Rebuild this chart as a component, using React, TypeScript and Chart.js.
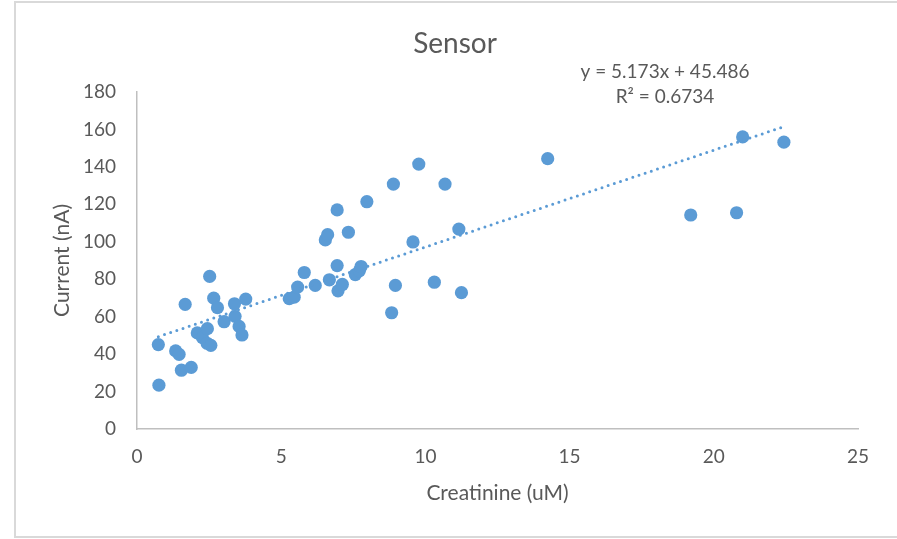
import React, { useEffect, useRef } from "react";
import { Chart, registerables } from "chart.js";

Chart.register(...registerables);

const creatinine: number[] = [
  0.74, 0.76, 1.34, 1.46, 1.54, 1.67, 1.88, 2.09, 2.27, 2.44, 2.43, 2.56, 2.52,
  2.66, 2.79, 3.02, 3.38, 3.4, 3.54, 3.64, 3.77, 5.28, 5.45, 5.57, 5.8, 6.18,
  6.53, 6.61, 6.67, 6.94, 6.94, 6.97, 7.12, 7.33, 7.57, 7.71, 7.77, 7.97, 8.83,
  8.89, 8.96, 9.57, 9.77, 10.31, 10.68, 11.16, 11.25, 14.24, 19.2, 20.79, 21.0,
  22.43,
];
const current: number[] = [
  45.1, 23.4, 41.7, 39.9, 31.4, 66.6, 32.9, 51.3, 48.8, 53.6, 45.8, 44.7, 81.5,
  69.9, 64.8, 57.3, 66.9, 60.2, 54.8, 50.2, 69.4, 69.6, 70.4, 75.8, 83.6, 76.7,
  101, 103.8, 79.7, 117, 87.3, 73.8, 77.2, 105.1, 82.5, 84.5, 86.8, 121.4, 62.1,
  130.8, 76.7, 99.9, 141.5, 78.4, 130.8, 106.8, 72.8, 144.4, 114.3, 115.5, 156,
  153.2,
];
const slope = 5.173;
const intercept = 45.486;
const titleText = "Sensor";
const equationText = "y = 5.173x + 45.486";
const r2Text = "R\u00B2 = 0.6734";
const xTitle = "Creatinine (uM)";
const yTitle = "Current (nA)";

const BLUE = "#5B9BD5";
const TEXT = "#595959";
const FONT = "Lato, 'Open Sans', sans-serif";

export default function App() {
  const ref = useRef<HTMLCanvasElement | null>(null);

  useEffect(() => {
    if (!ref.current) return;
    const pts = creatinine.map((x, i) => ({ x, y: current[i] }));
    const xmin = Math.min(...creatinine);
    const xmax = Math.max(...creatinine);
    const trend = [
      { x: xmin, y: slope * xmin + intercept },
      { x: xmax, y: slope * xmax + intercept },
    ];

    const textPlugin = {
      id: "texts",
      beforeDraw(chart: any) {
        const ctx = chart.ctx;
        ctx.save();
        ctx.strokeStyle = "#D9D9D9";
        ctx.lineWidth = 2;
        ctx.strokeRect(15, 2, 900, 535);
        ctx.restore();
      },
      afterDraw(chart: any) {
        const ctx = chart.ctx;
        const a = chart.chartArea;
        ctx.save();
        ctx.fillStyle = TEXT;
        ctx.textAlign = "center";
        ctx.textBaseline = "middle";
        ctx.font = `28px ${FONT}`;
        ctx.fillText(titleText, 455, 44);
        ctx.font = `19px ${FONT}`;
        ctx.fillText(equationText, 665, 72);
        ctx.fillText(r2Text, 665, 97);
        ctx.font = `21px ${FONT}`;
        ctx.fillText(xTitle, (a.left + a.right) / 2, 493);
        ctx.translate(62, (a.top + a.bottom) / 2);
        ctx.rotate(-Math.PI / 2);
        ctx.fillText(yTitle, 0, 0);
        ctx.restore();
      },
    };

    const chart = new Chart(ref.current, {
      type: "scatter",
      data: {
        datasets: [
          {
            type: "line",
            data: trend,
            borderColor: BLUE,
            borderWidth: 3,
            borderDash: [0, 6.5],
            borderCapStyle: "round",
            pointRadius: 0,
            fill: false,
            order: 0,
          } as any,
          {
            data: pts,
            backgroundColor: BLUE,
            borderWidth: 0,
            pointRadius: 6.6,
            pointHoverRadius: 6.6,
            order: 1,
          },
        ],
      },
      plugins: [textPlugin],
      options: {
        responsive: false,
        animation: false,
        events: [],
        layout: { padding: { left: 0, right: 39, top: 92, bottom: 0 } },
        plugins: {
          legend: { display: false },
          title: { display: false },
          tooltip: { enabled: false },
        },
        scales: {
          x: {
            type: "linear",
            min: 0,
            max: 25,
            ticks: {
              stepSize: 5,
              padding: 16,
              color: TEXT,
              font: { family: FONT, size: 19 },
            },
            grid: { display: false, drawTicks: false },
            border: { display: true, color: "#BFBFBF", width: 1.5 },
            afterFit(scale: any) {
              scale.height = 110;
            },
          },
          y: {
            type: "linear",
            min: 0,
            max: 180,
            ticks: {
              stepSize: 20,
              padding: 21,
              color: TEXT,
              font: { family: FONT, size: 19 },
            },
            grid: { display: false, drawTicks: false },
            border: { display: true, color: "#BFBFBF", width: 1.5 },
            afterFit(scale: any) {
              scale.width = 137;
            },
          },
        },
      },
    });
    return () => chart.destroy();
  }, []);

  return (
    <div style={{ position: "absolute", left: 0, top: 0, width: 897, height: 539, background: "#fff" }}>
      <canvas ref={ref} width={897} height={539} style={{ display: "block" }} />
    </div>
  );
}
